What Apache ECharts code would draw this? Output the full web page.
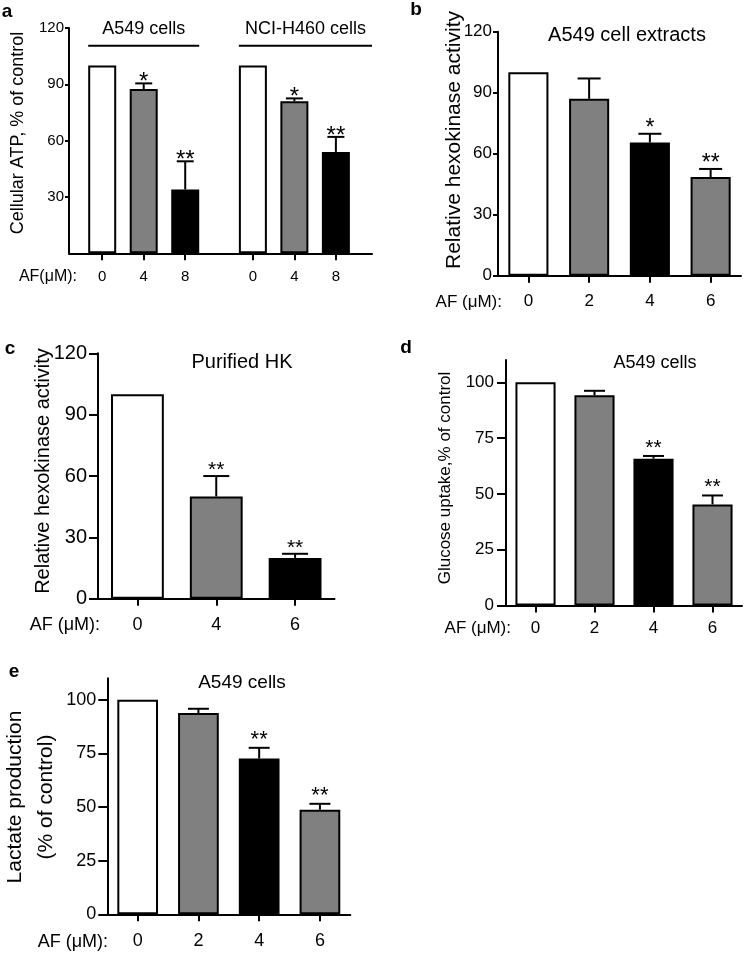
<!DOCTYPE html>
<html><head><meta charset="utf-8">
<script src="https://cdn.jsdelivr.net/npm/echarts@6/dist/echarts.min.js"></script>
<style>html,body{margin:0;padding:0;background:#fff}#c{width:748px;height:956px}</style>
</head><body><div id="c"></div>
<script>
// ---------------- data ----------------
// Panel a: Cellular ATP
const aGroups = ['A549 cells', 'NCI-H460 cells'];
const aDoses = ['0', '4', '8'];
const aMeansA549 = [100, 87.5, 34];
const aErrsA549 = [0, 3, 15];
const aStarsA549 = ['', '*', '**'];
const aMeansH460 = [100, 81, 54];
const aErrsH460 = [0, 1.5, 8];
const aStarsH460 = ['', '*', '**'];
const aYTicks = [30, 60, 90, 120];

// Panel b: A549 cell extracts
const bDoses = ['0', '2', '4', '6'];
const bMeans = [100, 87, 65.5, 48.5];
const bErrs = [0, 10, 4.3, 4];
const bStars = ['', '', '*', '**'];
const bYTicks = [0, 30, 60, 90, 120];

// Panel c: Purified HK
const cDoses = ['0', '4', '6'];
const cMeans = [100, 50, 20];
const cErrs = [0, 10, 2];
const cStars = ['', '**', '**'];
const cYTicks = [0, 30, 60, 90, 120];

// Panel d: Glucose uptake
const dDoses = ['0', '2', '4', '6'];
const dMeans = [100, 94.2, 65.8, 45.3];
const dErrs = [0, 2, 1.2, 4];
const dStars = ['', '', '**', '**'];
const dYTicks = [0, 25, 50, 75, 100];

// Panel e: Lactate production
const eDoses = ['0', '2', '4', '6'];
const eMeans = [100, 93.8, 72.6, 48.7];
const eErrs = [0, 2, 5, 2.8];
const eStars = ['', '', '**', '**'];
const eYTicks = [0, 25, 50, 75, 100];

// ---------------- styles / layout ----------------
const FONT = '"Liberation Sans", Arial, Helvetica, sans-serif';
const K = '#000', W = '#ffffff', G = '#808080';
const fillsA = [W, G, K];
const fillsB = [W, G, K, G];
const fillsC = [W, G, K];
const fillsD = [W, G, K, G];
const fillsE = [W, G, K, G];
const A_GAP = 0.63;          // extra gap between the two groups of panel a (in category units)
const A_XMIN = -0.8, A_XMAX = 6.5;
const A_BAR_PX = 28;
const A_BRACKET_Y = 110.5;

const aPos = (g, i) => i + g * (aDoses.length + A_GAP);

const grids = [
  {left: 69, top: 28, width: 303, height: 225.3},      // a
  {left: 498, top: 31.7, width: 243, height: 244},     // b
  {left: 98, top: 353.3, width: 236.5, height: 245.5}, // c
  {left: 506, top: 360, width: 236, height: 245.5},    // d
  {left: 107.3, top: 678.3, width: 243, height: 236}   // e
];

function yAxisCfg(gi, max, ticks, fs, margin, tickLen) {
  return {
    type: 'value', gridIndex: gi, min: 0, max: max,
    axisLine: {show: true, onZero: false, lineStyle: {color: K, width: 2}},
    axisTick: {show: true, length: tickLen, lineStyle: {color: K, width: 2}, customValues: ticks},
    axisLabel: {color: K, fontSize: fs, fontFamily: FONT, margin: margin, customValues: ticks},
    splitLine: {show: false}
  };
}
function xCatCfg(gi, cats, fs, margin) {
  return {
    type: 'category', gridIndex: gi, data: cats, boundaryGap: true,
    axisLine: {show: true, onZero: false, lineStyle: {color: K, width: 2}},
    axisTick: {show: true, alignWithLabel: true, length: 7, lineStyle: {color: K, width: 2}},
    axisLabel: {color: K, fontSize: fs, fontFamily: FONT, margin: margin, interval: 0},
    splitLine: {show: false}
  };
}
function barSeries(gi, xs, means, fills, barWidth) {
  return {
    type: 'bar', xAxisIndex: gi, yAxisIndex: gi, barWidth: barWidth, silent: true,
    itemStyle: {borderColor: K, borderWidth: 2},
    data: means.map((m, i) => ({value: xs ? [xs[i], m] : m, itemStyle: {color: fills[i]}}))
  };
}
function errSeries(gi, xs, means, errs, stars, capPx, starFs, starGap) {
  return {
    type: 'custom', xAxisIndex: gi, yAxisIndex: gi, z: 5, silent: true,
    data: means.map((m, i) => [xs[i], m, errs[i]]),
    renderItem: function (params, api) {
      const x = api.value(0), m = api.value(1), e = api.value(2);
      const p0 = api.coord([x, m]);
      const p1 = api.coord([x, m + e]);
      const ch = [];
      if (e > 0) {
        ch.push({type: 'line', shape: {x1: p0[0], y1: p0[1], x2: p1[0], y2: p1[1]}, style: {stroke: K, lineWidth: 2}});
        ch.push({type: 'line', shape: {x1: p1[0] - capPx / 2, y1: p1[1], x2: p1[0] + capPx / 2, y2: p1[1]}, style: {stroke: K, lineWidth: 2}});
      }
      const s = stars[params.dataIndex];
      if (s) {
        ch.push({type: 'text', style: {text: s, x: p1[0], y: p1[1] - starGap, fill: K,
          font: starFs + 'px ' + FONT, align: 'center', verticalAlign: 'middle',
          textAlign: 'center', textVerticalAlign: 'middle'}});
      }
      return {type: 'group', children: ch};
    }
  };
}

// ---------------- panel a assembled ----------------
const aAllPos = [], aAllMeans = [], aAllErrs = [], aAllStars = [], aAllFills = [], aTickLabels = {};
[[aMeansA549, aErrsA549, aStarsA549], [aMeansH460, aErrsH460, aStarsH460]].forEach((grp, g) => {
  aDoses.forEach((d, i) => {
    const p = aPos(g, i);
    aAllPos.push(p); aAllMeans.push(grp[0][i]); aAllErrs.push(grp[1][i]); aAllStars.push(grp[2][i]);
    aAllFills.push(fillsA[i]);
    aTickLabels[Math.round(p * 100)] = d;
  });
});

const bracketSeries = {
  type: 'custom', xAxisIndex: 0, yAxisIndex: 0, z: 5, silent: true, clip: false,
  data: aGroups.map((g, gi) => [gi]),
  renderItem: function (params, api) {
    const g = params.dataIndex;
    const first = aPos(g, 0), last = aPos(g, aDoses.length - 1);
    const y = api.coord([first, A_BRACKET_Y])[1];
    const x0 = api.coord([first, 0])[0] - A_BAR_PX / 2;
    const x1 = (g === aGroups.length - 1) ? api.coord([A_XMAX, 0])[0] : api.coord([last, 0])[0] + A_BAR_PX / 2;
    return {type: 'group', children: [
      {type: 'line', shape: {x1: x0, y1: y, x2: x1, y2: y}, style: {stroke: K, lineWidth: 2}},
      {type: 'text', style: {text: aGroups[g], x: (x0 + x1) / 2, y: y - 17, fill: K, font: '18px ' + FONT,
        align: 'center', verticalAlign: 'middle', textAlign: 'center', textVerticalAlign: 'middle'}}
    ]};
  }
};

const idx = arr => arr.map((_, i) => i);

// ---------------- text helpers ----------------
function txt(text, x, y, size, opts) {
  opts = opts || {};
  return {
    type: 'text', x: x, y: y, rotation: opts.rot || 0, silent: true,
    style: {text: text, fill: K, font: (opts.bold ? 'bold ' : '') + size + 'px ' + FONT,
      align: opts.align || 'center', verticalAlign: 'middle',
      textAlign: opts.align || 'center', textVerticalAlign: 'middle', lineHeight: opts.lh}
  };
}
const R = Math.PI / 2;

const option = {
  animation: false,
  backgroundColor: '#fff',
  grid: grids,
  xAxis: [
    {
      type: 'value', gridIndex: 0, min: A_XMIN, max: A_XMAX,
      axisLine: {show: true, onZero: false, lineStyle: {color: K, width: 2}},
      axisTick: {show: true, length: 7, lineStyle: {color: K, width: 2}, customValues: aAllPos},
      axisLabel: {color: K, fontSize: 15, fontFamily: FONT, margin: 16, customValues: aAllPos,
        formatter: v => aTickLabels[Math.round(v * 100)] || ''},
      splitLine: {show: false}
    },
    xCatCfg(1, bDoses, 17, 17),
    xCatCfg(2, cDoses, 18, 17),
    xCatCfg(3, dDoses, 17, 14),
    xCatCfg(4, eDoses, 18, 18)
  ],
  yAxis: [
    yAxisCfg(0, 120, aYTicks, 15, 5, 4),
    yAxisCfg(1, 120, bYTicks, 17, 6, 5),
    yAxisCfg(2, 120, cYTicks, 20, 11, 9),
    yAxisCfg(3, 110, dYTicks, 17, 12, 9),
    yAxisCfg(4, 110, eYTicks, 18, 11, 9)
  ],
  series: [
    barSeries(0, aAllPos, aAllMeans, aAllFills, A_BAR_PX),
    errSeries(0, aAllPos, aAllMeans, aAllErrs, aAllStars, 17, 24, 1),
    bracketSeries,
    barSeries(1, null, bMeans, fillsB, '66%'),
    errSeries(1, idx(bDoses), bMeans, bErrs, bStars, 23, 23, 5),
    barSeries(2, null, cMeans, fillsC, '67%'),
    errSeries(2, idx(cDoses), cMeans, cErrs, cStars, 26, 21, 6),
    barSeries(3, null, dMeans, fillsD, '68%'),
    errSeries(3, idx(dDoses), dMeans, dErrs, dStars, 21, 21, 8),
    barSeries(4, null, eMeans, fillsE, '67%'),
    errSeries(4, idx(eDoses), eMeans, eErrs, eStars, 21, 22, 8)
  ],
  graphic: [
    // panel letters
    txt('a', 7, 12, 19, {bold: true}),
    txt('b', 416, 10, 19, {bold: true}),
    txt('c', 10, 349, 19, {bold: true}),
    txt('d', 406, 348, 19, {bold: true}),
    txt('e', 14, 672, 19, {bold: true}),
    // panel titles
    txt('A549 cell extracts', 627, 35, 20),
    txt('Purified HK', 242, 362, 20),
    txt('A549 cells', 655, 363, 18),
    txt('A549 cells', 242, 683, 19),
    // y-axis titles
    txt('Cellular ATP, % of control', 18, 133, 18, {rot: R}),
    txt('Relative hexokinase activity', 454, 140, 21, {rot: R}),
    txt('Relative hexokinase activity', 43, 471, 20, {rot: R}),
    txt('Glucose uptake,% of control', 445, 478, 17, {rot: R}),
    txt('Lactate production\n(% of control)', 31, 797, 21, {rot: R, lh: 31}),
    // dose row labels
    txt('AF(\u03bcM):', 77, 277, 16, {align: 'right'}),
    txt('AF (\u03bcM):', 502, 302, 17, {align: 'right'}),
    txt('AF (\u03bcM):', 100, 625, 18, {align: 'right'}),
    txt('AF (\u03bcM):', 511, 628, 17, {align: 'right'}),
    txt('AF (\u03bcM):', 108, 942, 18, {align: 'right'})
  ]
};

const chart = echarts.init(document.getElementById('c'), null, {renderer: 'canvas', width: 748, height: 956});
chart.setOption(option);
</script>
</body></html>
